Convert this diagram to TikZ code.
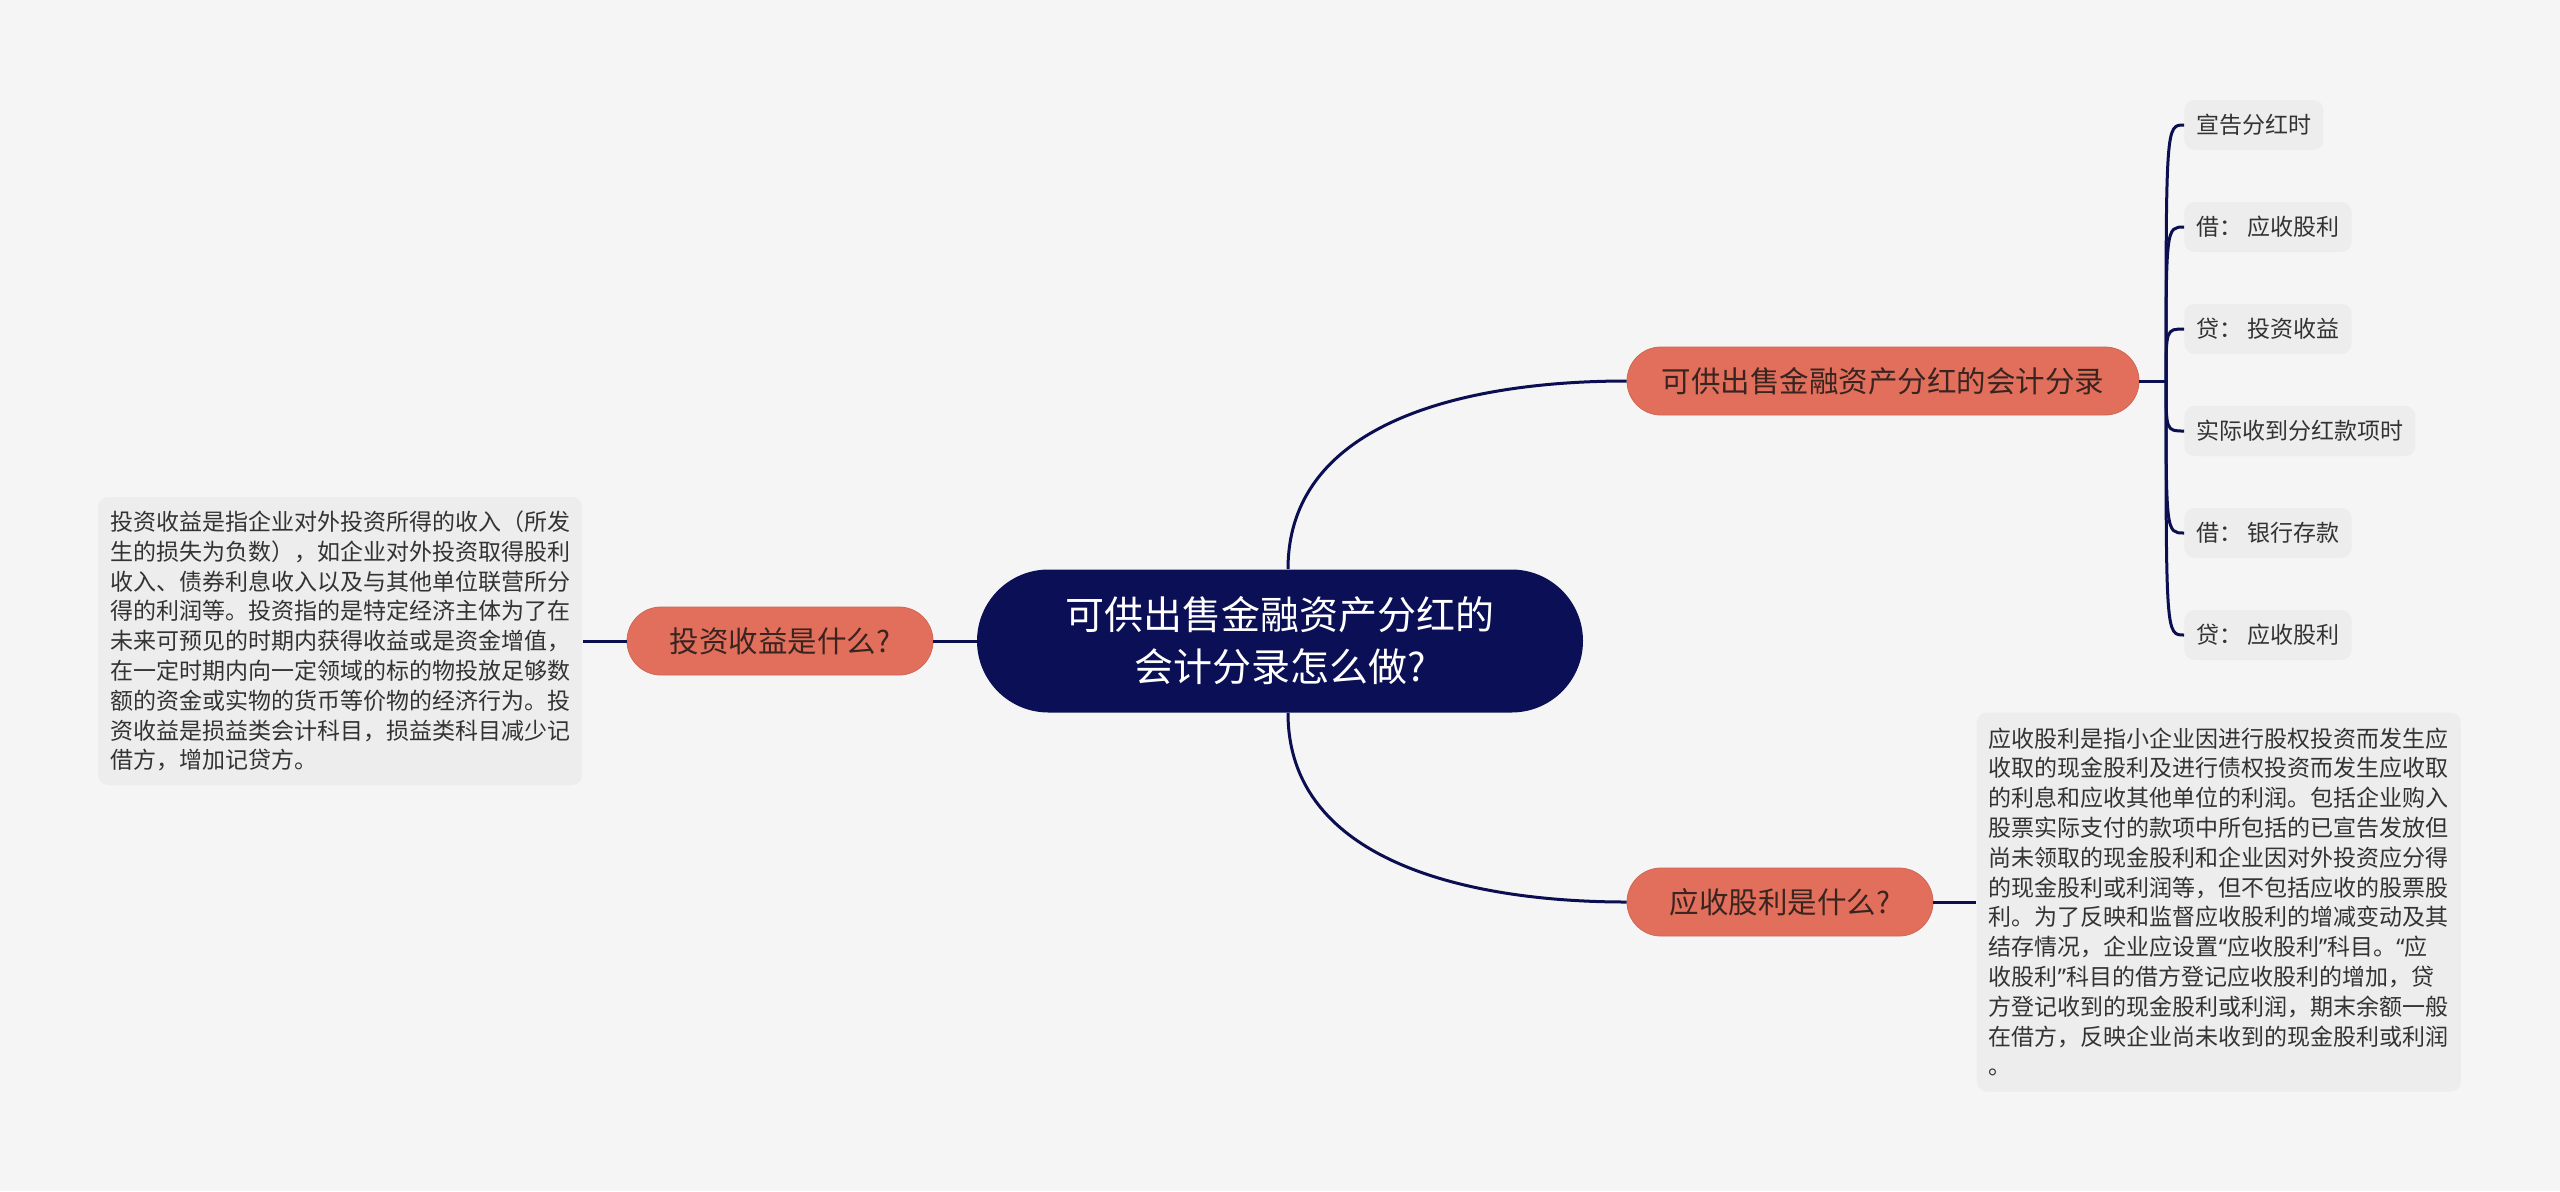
\documentclass[tikz,border=0pt]{standalone}
\usepackage{fontspec}
\newfontfamily\cjk{Noto Sans CJK SC}
\newfontfamily\latq{Noto Sans}
\usetikzlibrary{positioning}
\definecolor{bgcolor}{HTML}{F5F5F5}
\definecolor{rootnavy}{HTML}{0B0F55}
\definecolor{linenavy}{HTML}{0B0E50}
\definecolor{topicred}{HTML}{E26F5C}
\definecolor{topictext}{HTML}{3A2420}
\definecolor{notegray}{HTML}{EDEDED}
\definecolor{notetext}{HTML}{333333}
\newcommand{\qopen}{{\latq “}}
\newcommand{\qclose}{{\latq ”}}

\begin{document}
\begin{tikzpicture}[
    x=0.5pt, y=-0.5pt,
    root/.style={rectangle, fill=rootnavy, text=white, rounded corners=35.75pt, minimum width=303pt, minimum height=71.5pt, align=center, font=\cjk\fontsize{19.5pt}{26pt}\selectfont},
    topic/.style={rectangle, fill=topicred, draw=topicred!92!black, thin, text=topictext, rounded corners=17pt, minimum height=34pt, font=\cjk\fontsize{14.75pt}{18pt}\selectfont},
    note/.style={rectangle, fill=notegray, text=notetext, rounded corners=5pt, text width=230pt, inner xsep=6pt, align=left, font=\cjk\fontsize{11.5pt}{14.9pt}\selectfont},
    leaf/.style={rectangle, fill=notegray, text=notetext, rounded corners=5pt, minimum height=25pt, inner xsep=6pt, anchor=west, font=\cjk\fontsize{11.5pt}{14pt}\selectfont},
    link/.style={draw=linenavy, line width=1.5pt}
]
    % Canvas
    \fill[bgcolor] (0,0) rectangle (2560,1191);

    % Central topic
    \node[root] (root) at (1280,641) {可供出售金融资产分红的\\会计分录怎么做?};

    % Main branches
    \node[topic, minimum width=256pt] (entry) at (1883,381) {可供出售金融资产分红的会计分录};
    \node[topic, minimum width=153pt] (receivable) at (1780,902) {应收股利是什么?};
    \node[topic, minimum width=153pt] (income) at (780,641) {投资收益是什么?};

    % Notes
    \node[note, minimum height=144pt, left=22pt of income] (incomenote) {投资收益是指企业对外投资所得的收入（所发\\生的损失为负数），如企业对外投资取得股利\\收入、债券利息收入以及与其他单位联营所分\\得的利润等。投资指的是特定经济主体为了在\\未来可预见的时期内获得收益或是资金增值，\\在一定时期内向一定领域的标的物投放足够数\\额的资金或实物的货币等价物的经济行为。投\\资收益是损益类会计科目，损益类科目减少记\\借方，增加记贷方。};
    \node[note, minimum height=189.5pt, right=21.5pt of receivable] (receivablenote) {应收股利是指小企业因进行股权投资而发生应\\收取的现金股利及进行债权投资而发生应收取\\的利息和应收其他单位的利润。包括企业购入\\股票实际支付的款项中所包括的已宣告发放但\\尚未领取的现金股利和企业因对外投资应分得\\的现金股利或利润等，但不包括应收的股票股\\利。为了反映和监督应收股利的增减变动及其\\结存情况，企业应设置\qopen 应收股利\qclose 科目。\qopen 应\\收股利\qclose 科目的借方登记应收股利的增加，贷\\方登记收到的现金股利或利润，期末余额一般\\在借方，反映企业尚未收到的现金股利或利润\\。};

    % Entries
    \coordinate (hub) at (2166,381);
    \node[leaf] (declare) at (2184,125) {宣告分红时};
    \node[leaf] (debita) at (2184,227) {借： 应收股利};
    \node[leaf] (credita) at (2184,329) {贷： 投资收益};
    \node[leaf] (receive) at (2184,431) {实际收到分红款项时};
    \node[leaf] (debitb) at (2184,533) {借： 银行存款};
    \node[leaf] (creditb) at (2184,635) {贷： 应收股利};

    % Connectors
    \draw[link] ([xshift=4pt]root.north) to[out=90, in=180] (entry.west);
    \draw[link] ([xshift=4pt]root.south) to[out=-90, in=180] (receivable.west);
    \draw[link] (root.west) -- (income.east);
    \draw[link] (income.west) -- (incomenote.east);
    \draw[link] (receivable.east) -- (receivablenote.west);
    \draw[link] (entry.east) -- (hub);
    \draw[link] (hub) .. controls (hub |- declare) .. (declare.west);
    \draw[link] (hub) .. controls (hub |- debita) .. (debita.west);
    \draw[link] (hub) .. controls (hub |- credita) .. (credita.west);
    \draw[link] (hub) .. controls (hub |- receive) .. (receive.west);
    \draw[link] (hub) .. controls (hub |- debitb) .. (debitb.west);
    \draw[link] (hub) .. controls (hub |- creditb) .. (creditb.west);
\end{tikzpicture}
\end{document}
